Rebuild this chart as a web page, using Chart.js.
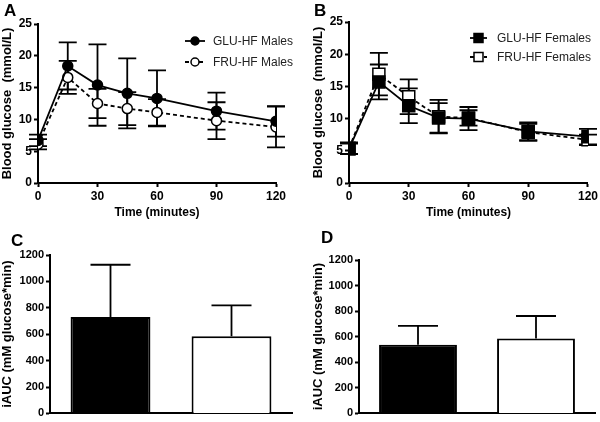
<!DOCTYPE html>
<html>
<head>
<meta charset="utf-8">
<script src="https://cdn.jsdelivr.net/npm/chart.js@4/dist/chart.umd.min.js"></script>
<style>
  body { margin: 0; background: #fff; width: 600px; height: 422px; position: relative; overflow: hidden; font-family: "Liberation Sans", Arial, sans-serif; }
  .panel { position: absolute; }
  .tag { position: absolute; font-weight: bold; font-size: 17px; line-height: 17px; }
</style>
</head>
<body>
<div class="panel" style="left:0;top:0"><canvas id="chartA" width="300" height="222"></canvas></div>
<div class="panel" style="left:300px;top:0"><canvas id="chartB" width="300" height="222"></canvas></div>
<div class="panel" style="left:0;top:222px"><canvas id="chartC" width="300" height="200"></canvas></div>
<div class="panel" style="left:300px;top:222px"><canvas id="chartD" width="300" height="200"></canvas></div>
<div class="tag" style="left:4px;top:2px">A</div>
<div class="tag" style="left:314px;top:2px">B</div>
<div class="tag" style="left:11px;top:232px">C</div>
<div class="tag" style="left:321px;top:229px">D</div>
<script>
// --- data ---
const times = [0, 15, 30, 45, 60, 90, 120];
const timeTicks = [0, 30, 60, 90, 120];

const gluMales = [6.7, 18.4, 15.4, 14.1, 13.3, 11.3, 9.7];
const gluMalesErr = [0.9, 3.7, 6.4, 5.5, 4.4, 2.9, 2.4];
const fruMales = [6.1, 16.6, 12.5, 11.7, 11.1, 9.8, 8.8];
const fruMalesErr = [0.8, 2.6, 2.3, 2.6, 2.1, 2.9, 3.2];

const gluFemales = [5.3, 15.7, 12.0, 10.1, 10.0, 8.0, 7.2];
const gluFemalesErr = [0.8, 2.7, 2.7, 2.3, 1.8, 1.4, 1.2];
const fruFemales = [5.4, 16.9, 13.4, 10.3, 10.1, 7.9, 6.7];
const fruFemalesErr = [0.9, 3.3, 2.7, 2.6, 1.2, 1.3, 0.8];

const groups = ['GLU-HF', 'FRU-HF'];
const maleAUC = [731, 585];
const maleAUCErr = [395, 233];
const femaleAUC = [538, 585];
const femaleAUCErr = [147, 177];

const FONT = '"Liberation Sans", Arial, sans-serif';

// error bars (drawn through the chart's own scales)
const errorBars = {
    id: 'errorBars',
    beforeDatasetsDraw(chart, args, opts) {
        if (!opts.under) return;
        drawErrors(chart, opts);
    },
    afterDatasetsDraw(chart, args, opts) {
        if (opts.under) return;
        drawErrors(chart, opts);
    }
};

function drawErrors(chart, opts) {
    const ctx = chart.ctx;
    const yScale = chart.scales.y;
    ctx.save();
    ctx.strokeStyle = '#000';
    ctx.lineWidth = 1.8;
    chart.data.datasets.forEach((ds, i) => {
        if (!ds.errors) return;
        const meta = chart.getDatasetMeta(i);
        meta.data.forEach((el, j) => {
            const v = ds.data[j];
            const val = typeof v === 'object' ? v.y : v;
            const e = ds.errors[j];
            const x = el.x;
            const yTop = yScale.getPixelForValue(val + e);
            const yBot = opts.upperOnly ? el.y : yScale.getPixelForValue(val - e);
            const w = opts.capHalf;
            ctx.beginPath();
            ctx.moveTo(x, yTop); ctx.lineTo(x, yBot);
            ctx.moveTo(x - w, yTop); ctx.lineTo(x + w, yTop);
            if (!opts.upperOnly) { ctx.moveTo(x - w, yBot); ctx.lineTo(x + w, yBot); }
            ctx.stroke();
        });
    });
    ctx.restore();
}

// legend drawn inside the plot area
const insideLegend = {
    id: 'insideLegend',
    afterDraw(chart, args, opts) {
        const ctx = chart.ctx;
        ctx.save();
        chart.data.datasets.forEach((ds, i) => {
            const y = opts.y + i * opts.rowGap;
            const cx = (opts.x0 + opts.x1) / 2;
            ctx.strokeStyle = '#000';
            ctx.lineWidth = 1.8;
            ctx.setLineDash(ds.borderDash || []);
            ctx.beginPath();
            ctx.moveTo(opts.x0, y); ctx.lineTo(opts.x1, y);
            ctx.stroke();
            ctx.setLineDash([]);
            ctx.fillStyle = ds.pointBackgroundColor;
            ctx.lineWidth = 1.5;
            ctx.beginPath();
            if (ds.pointStyle === 'rect') {
                const s = opts.marker;
                ctx.rect(cx - s, y - s, 2 * s, 2 * s);
            } else {
                ctx.arc(cx, y, opts.marker, 0, Math.PI * 2);
            }
            ctx.fill();
            ctx.stroke();
            ctx.fillStyle = '#222';
            ctx.font = '12px ' + FONT;
            ctx.textBaseline = 'middle';
            ctx.textAlign = 'left';
            ctx.fillText(ds.label, opts.textX, y + 1);
        });
        ctx.restore();
    }
};

function axisStyle(extra) {
    return Object.assign({
        border: { display: true, color: '#000', width: 2 },
        grid: { display: true, drawOnChartArea: false, drawTicks: true, tickLength: 4, tickColor: '#000', tickWidth: 2 },
    }, extra);
}

const plainTick = v => String(v);

function lineChart(id, sets, pad, yW, yTitlePad, legend, pointStyle, radius) {
    return new Chart(document.getElementById(id), {
        type: 'line',
        data: {
            datasets: sets.map((s, k) => ({
                label: s.label,
                data: times.map((t, j) => ({ x: t, y: s.values[j] })),
                errors: s.errors,
                borderColor: '#000',
                borderWidth: 1.8,
                borderDash: k === 1 ? [4, 3] : [],
                pointStyle: pointStyle,
                pointRadius: radius,
                pointBorderWidth: 1.5,
                pointBorderColor: '#000',
                pointBackgroundColor: k === 0 ? '#000' : '#fff',
                tension: 0
            }))
        },
        options: {
            responsive: false,
            animation: false,
            layout: { padding: pad },
            plugins: {
                legend: { display: false },
                tooltip: { enabled: false },
                errorBars: { under: true, capHalf: 9 },
                insideLegend: legend
            },
            scales: {
                x: axisStyle({
                    type: 'linear', min: 0, max: 120,
                    afterBuildTicks: s => { s.ticks = timeTicks.map(v => ({ value: v })); },
                    afterFit: s => { s.height = 39; },
                    ticks: { callback: plainTick, color: '#000', padding: 2, font: { family: FONT, size: 12, weight: 'bold' } },
                    title: { display: true, text: 'Time (minutes)', color: '#000', padding: { top: 0, bottom: 2 }, font: { family: FONT, size: 12, weight: 'bold' } }
                }),
                y: axisStyle({
                    min: 0, max: 25,
                    afterFit: s => { s.width = yW; },
                    ticks: { stepSize: 5, callback: plainTick, color: '#000', padding: 2, font: { family: FONT, size: 12, weight: 'bold' } },
                    title: { display: true, text: 'Blood glucose  (mmol/L)', color: '#000', padding: { top: yTitlePad, bottom: 0 }, font: { family: FONT, size: 13, weight: 'bold' } }
                })
            }
        },
        plugins: [errorBars, insideLegend]
    });
}

lineChart('chartA', [
    { label: 'GLU-HF Males', values: gluMales, errors: gluMalesErr },
    { label: 'FRU-HF Males', values: fruMales, errors: fruMalesErr }
], { top: 24, right: 24, left: 0, bottom: 0 }, 38, 0,
   { x0: 185, x1: 205, y: 41, rowGap: 21, textX: 213, marker: 4 }, 'circle', 5);

lineChart('chartB', [
    { label: 'GLU-HF Females', values: gluFemales, errors: gluFemalesErr },
    { label: 'FRU-HF Females', values: fruFemales, errors: fruFemalesErr }
], { top: 22, right: 11, left: 0, bottom: 0 }, 49, 11,
   { x0: 170, x1: 187, y: 38, rowGap: 19, textX: 197, marker: 4.5 }, 'rect', 8.5);

function barChart(id, values, errs, pad, yW, yTitlePad) {
    return new Chart(document.getElementById(id), {
        type: 'bar',
        data: {
            labels: groups,
            datasets: [{
                data: values,
                errors: errs,
                backgroundColor: ['#000', '#fff'],
                borderColor: '#000',
                borderWidth: 2,
                borderSkipped: 'bottom',
                categoryPercentage: 1,
                barPercentage: 0.66
            }]
        },
        options: {
            responsive: false,
            animation: false,
            layout: { padding: pad },
            plugins: {
                legend: { display: false },
                tooltip: { enabled: false },
                errorBars: { under: false, upperOnly: true, capHalf: 20 }
            },
            scales: {
                x: {
                    border: { display: true, color: '#000', width: 2 },
                    grid: { display: false },
                    ticks: { display: false },
                    afterFit: s => { s.height = 5; }
                },
                y: axisStyle({
                    min: 0, max: 1200,
                    afterFit: s => { s.width = yW; },
                    ticks: { stepSize: 200, callback: plainTick, color: '#000', padding: 2, font: { family: FONT, size: 11, weight: 'bold' } },
                    title: { display: true, text: 'iAUC (mM glucose*min)', color: '#000', padding: { top: yTitlePad, bottom: 0 }, font: { family: FONT, size: 13, weight: 'bold' } }
                })
            }
        },
        plugins: [errorBars]
    });
}

barChart('chartC', maleAUC, maleAUCErr, { top: 33, right: 8, left: 0, bottom: 0 }, 50, 0);
barChart('chartD', femaleAUC, femaleAUCErr, { top: 38, right: 5, left: 0, bottom: 1 }, 59, 11);
</script>
</body>
</html>
